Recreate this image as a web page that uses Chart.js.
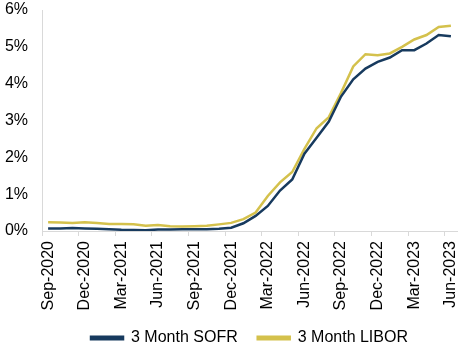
<!DOCTYPE html>
<html>
<head>
<meta charset="utf-8">
<script src="https://cdn.jsdelivr.net/npm/chart.js@4"></script>
<style>
  html, body { margin: 0; padding: 0; background: #fff; }
  #wrap { width: 460px; height: 344px; position: relative; }
</style>
</head>
<body>
<div id="wrap"><canvas id="rates"></canvas></div>
<script>
// month-end observations, Sep-2020 .. Jun-2023
const months = [
    'Sep-2020', 'Oct-2020', 'Nov-2020', 'Dec-2020', 'Jan-2021', 'Feb-2021',
    'Mar-2021', 'Apr-2021', 'May-2021', 'Jun-2021', 'Jul-2021', 'Aug-2021',
    'Sep-2021', 'Oct-2021', 'Nov-2021', 'Dec-2021', 'Jan-2022', 'Feb-2022',
    'Mar-2022', 'Apr-2022', 'May-2022', 'Jun-2022', 'Jul-2022', 'Aug-2022',
    'Sep-2022', 'Oct-2022', 'Nov-2022', 'Dec-2022', 'Jan-2023', 'Feb-2023',
    'Mar-2023', 'Apr-2023', 'May-2023', 'Jun-2023'
];

const sofr = [
    0.07, 0.07, 0.08, 0.07, 0.06, 0.05,
    0.035, 0.03, 0.02, 0.04, 0.04, 0.05,
    0.05, 0.05, 0.06, 0.09, 0.21, 0.41,
    0.68, 1.10, 1.40, 2.10, 2.53, 2.97,
    3.65, 4.12, 4.41, 4.59, 4.71, 4.91,
    4.91, 5.09, 5.32, 5.29
];

const libor = [
    0.24, 0.23, 0.22, 0.24, 0.22, 0.19,
    0.19, 0.18, 0.14, 0.16, 0.13, 0.12,
    0.13, 0.14, 0.18, 0.22, 0.32, 0.50,
    0.95, 1.32, 1.60, 2.23, 2.79, 3.09,
    3.75, 4.47, 4.80, 4.77, 4.82, 5.00,
    5.20, 5.32, 5.54, 5.57
];

const yTicks = [0, 1, 2, 3, 4, 5, 6];

const navy = '#173a5e';
const gold = '#d4c14c';
const axisGrey = '#d9d9d9';
const labelFont = { family: '"Liberation Sans", Arial, sans-serif', size: 16 };

new Chart(document.getElementById('rates'), {
    type: 'line',
    data: {
        labels: months,
        datasets: [
            {
                label: '3 Month SOFR',
                data: sofr,
                borderColor: navy,
                backgroundColor: navy,
                borderWidth: 2.5,
                pointRadius: 0,
                tension: 0,
                fill: false
            },
            {
                label: '3 Month LIBOR',
                data: libor,
                borderColor: gold,
                backgroundColor: gold,
                borderWidth: 2.5,
                pointRadius: 0,
                tension: 0,
                fill: false
            }
        ]
    },
    options: {
        responsive: true,
        maintainAspectRatio: false,
        animation: false,
        layout: {
            padding: { left: 5, right: 3, top: 10, bottom: -12 }
        },
        font: labelFont,
        scales: {
            x: {
                type: 'category',
                offset: true,
                grid: {
                    offset: true,
                    drawOnChartArea: false,
                    tickLength: 5,
                    tickColor: ctx => ctx.index % 3 === 0 ? axisGrey : 'rgba(0,0,0,0)'
                },
                border: { display: true, color: axisGrey, width: 1 },
                afterFit: axis => {
                    axis.height = 79;
                    axis.paddingLeft = 0;
                    axis.paddingRight = 0;
                },
                ticks: {
                    autoSkip: false,
                    minRotation: 90,
                    maxRotation: 90,
                    padding: 5,
                    color: '#000',
                    font: labelFont,
                    callback: function (value, index) {
                        return index % 3 === 0 ? this.getLabelForValue(value) : '';
                    }
                }
            },
            y: {
                min: yTicks[0],
                max: yTicks[yTicks.length - 1],
                grid: { display: false, drawTicks: false, tickLength: 0 },
                border: { display: true, color: axisGrey, width: 1 },
                afterFit: axis => {
                    axis.width = 37;
                    axis.paddingTop = 0;
                    axis.paddingBottom = 0;
                },
                afterBuildTicks: axis => {
                    axis.ticks = yTicks.map(v => ({ value: v }));
                },
                ticks: {
                    padding: 14,
                    color: '#000',
                    font: labelFont,
                    callback: v => v + '%'
                }
            }
        },
        plugins: {
            legend: {
                position: 'bottom',
                fullSize: false,
                labels: {
                    boxWidth: 32,
                    boxHeight: 2.5,
                    padding: 20,
                    color: '#000',
                    font: labelFont
                }
            },
            tooltip: { enabled: false }
        }
    }
});
</script>
</body>
</html>
